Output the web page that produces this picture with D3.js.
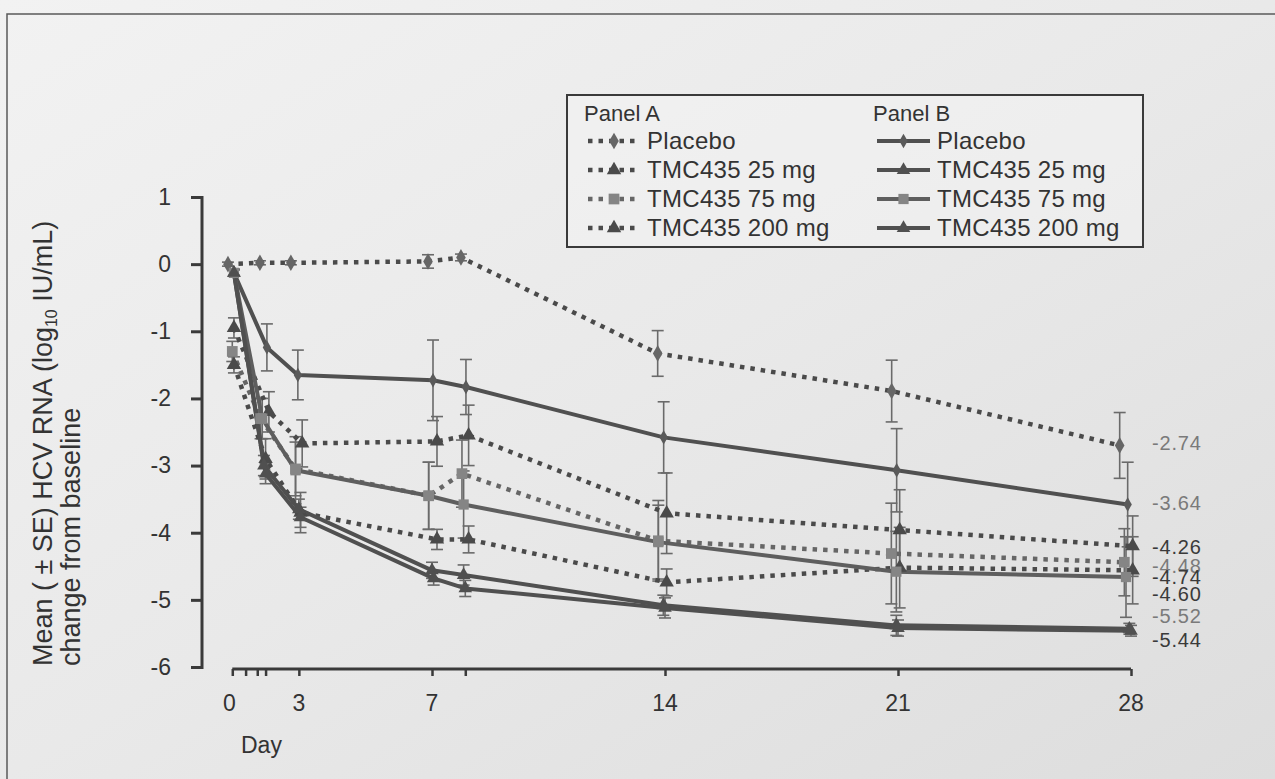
<!DOCTYPE html>
<html><head><meta charset="utf-8">
<script src="https://cdn.jsdelivr.net/npm/d3@7"></script>
<style>html,body{margin:0;padding:0;background:#e8e8e8;}svg{display:block;font-family:"Liberation Sans",Arial,sans-serif;}</style>
</head><body>
<svg id="c" width="1275" height="779"></svg>
<script>
// ---- data (days, mean change, SE) ----
const seriesNames = ["Placebo","TMC435 25 mg","TMC435 75 mg","TMC435 200 mg"];
const placeboA_x = [0.87, 1.83, 2.76, 6.88, 7.87, 13.78, 20.81, 27.66];
const placeboA_y = [0, 0.02, 0.02, 0.04, 0.1, -1.33, -1.89, -2.7];
const placeboA_se = [0.03, 0.03, 0.03, 0.1, 0.05, 0.34, 0.46, 0.49];
const tmc25A_x = [1.05, 2.1, 3.1, 7.15, 8.1, 14.05, 21.05, 28.05];
const tmc25A_y = [-0.95, -2.2, -2.67, -2.64, -2.55, -3.71, -3.96, -4.2];
const tmc25A_se = [0.15, 0.3, 0.35, 0.37, 0.45, 0.6, 0.6, 0.45];
const tmc75A_x = [1.0, 1.85, 2.9, 6.9, 7.9, 13.8, 20.8, 27.8];
const tmc75A_y = [-1.3, -2.3, -3.05, -3.45, -3.12, -4.12, -4.31, -4.44];
const tmc75A_se = [0.15, 0.3, 0.4, 0.5, 0.5, 0.6, 0.75, 0.5];
const tmc200A_x = [1.05, 2.0, 3.05, 7.15, 8.1, 14.05, 21.05, 28.05];
const tmc200A_y = [-1.5, -2.9, -3.7, -4.1, -4.1, -4.74, -4.52, -4.56];
const tmc200A_se = [0.12, 0.3, 0.3, 0.15, 0.2, 0.2, 0.6, 0.5];
const placeboB_x = [1.05, 2.04, 2.97, 7.03, 8.02, 13.96, 20.96, 27.9];
const placeboB_y = [-0.13, -1.24, -1.65, -1.73, -1.83, -2.58, -3.07, -3.58];
const placeboB_se = [0.05, 0.35, 0.37, 0.6, 0.41, 0.53, 0.62, 0.63];
const tmc25B_x = [1.05, 1.95, 3.0, 7.0, 7.95, 13.95, 20.95, 27.95];
const tmc25B_y = [-0.13, -3.0, -3.65, -4.56, -4.63, -5.08, -5.38, -5.43];
const tmc25B_se = [0.05, 0.15, 0.15, 0.12, 0.15, 0.15, 0.15, 0.08];
const tmc75B_x = [1.05, 1.9, 2.9, 6.9, 7.95, 13.8, 20.95, 27.85];
const tmc75B_y = [-0.13, -2.3, -3.07, -3.45, -3.58, -4.14, -4.58, -4.66];
const tmc75B_se = [0.05, 0.3, 0.5, 0.5, 0.5, 0.55, 0.6, 0.6];
const tmc200B_x = [1.05, 2.0, 3.05, 7.05, 8.0, 14.0, 21.0, 28.0];
const tmc200B_y = [-0.13, -3.12, -3.77, -4.68, -4.83, -5.12, -5.42, -5.46];
const tmc200B_se = [0.05, 0.15, 0.15, 0.1, 0.12, 0.15, 0.12, 0.08];

const yTicks = [1, 0, -1, -2, -3, -4, -5, -6];
const xTickDays = [1, 1.4, 1.75, 2, 3, 7, 8, 14, 21, 28];
const xLabelDays = [1, 3, 7, 14, 21, 28];
const xLabelText = ["0", "3", "7", "14", "21", "28"];
const endLabels = ["-2.74", "-3.64", "-4.26", "-4.48", "-4.74", "-4.60", "-5.52", "-5.44"];
const endLabelAt = [-2.67, -3.56, -4.22, -4.49, -4.66, -4.91, -5.24, -5.6];
const endLabelLight = [true, true, false, true, false, false, true, false];

// ---- chart ----
const svg = d3.select("#c");
const defs = svg.append("defs");
const grad = defs.append("linearGradient").attr("id","bg").attr("x1","0").attr("y1","0").attr("x2","1").attr("y2","1");
grad.append("stop").attr("offset","0").attr("stop-color","#f2f2f2");
grad.append("stop").attr("offset","0.5").attr("stop-color","#e9e9e9");
grad.append("stop").attr("offset","1").attr("stop-color","#dddddd");
svg.append("rect").attr("width",1275).attr("height",779).attr("fill","url(#bg)");
// frame
svg.append("path").attr("d","M7,779 V14 H1275").attr("fill","none").attr("stroke","#5a5a5a").attr("stroke-width",1.5);

const x = d3.scaleLinear().domain([0, 28]).range([199, 1131]);
const y = d3.scaleLinear().domain([-6, 1]).range([667, 197]);

const DARK = "#4a4a4a", MID = "#505050", LIGHT = "#858585";
const series = [
  {xs: placeboA_x, ys: placeboA_y, se: placeboA_se, dotted: true, sym: d3.symbolDiamond, color: DARK, mcolor: "#666", size: 80},
  {xs: tmc25A_x, ys: tmc25A_y, se: tmc25A_se, dotted: true, sym: d3.symbolTriangle, color: DARK, mcolor: DARK, size: 90},
  {xs: tmc75A_x, ys: tmc75A_y, se: tmc75A_se, dotted: true, sym: d3.symbolSquare, color: "#666", mcolor: LIGHT, size: 115},
  {xs: tmc200A_x, ys: tmc200A_y, se: tmc200A_se, dotted: true, sym: d3.symbolTriangle, color: DARK, mcolor: DARK, size: 90},
  {xs: placeboB_x, ys: placeboB_y, se: placeboB_se, dotted: false, sym: d3.symbolDiamond, color: MID, mcolor: "#5a5a5a", size: 60},
  {xs: tmc25B_x, ys: tmc25B_y, se: tmc25B_se, dotted: false, sym: d3.symbolTriangle, color: MID, mcolor: MID, size: 80},
  {xs: tmc75B_x, ys: tmc75B_y, se: tmc75B_se, dotted: false, sym: d3.symbolSquare, color: "#5e5e5e", mcolor: LIGHT, size: 105},
  {xs: tmc200B_x, ys: tmc200B_y, se: tmc200B_se, dotted: false, sym: d3.symbolTriangle, color: MID, mcolor: MID, size: 80}
];

// axes
const yAxis = d3.axisLeft(y).tickValues(yTicks).tickSize(11).tickPadding(20).tickFormat(d => String(d));
const gy = svg.append("g").attr("transform","translate(202,0)").call(yAxis);
gy.select(".domain").attr("stroke","#3a3a3a").attr("stroke-width",3).attr("d","M-11,197.5H0V667.5H-11");
gy.selectAll(".tick line").attr("stroke","#3a3a3a").attr("stroke-width",3);
gy.selectAll(".tick text").attr("font-size",23).attr("fill","#333").attr("font-family","Liberation Sans, Arial, sans-serif");

const xAxis = d3.axisBottom(x).tickValues(xTickDays).tickSize(7).tickFormat("");
const gx = svg.append("g").attr("transform","translate(0,669)").call(xAxis);
gx.select(".domain").attr("stroke","#3a3a3a").attr("stroke-width",3).attr("d",`M${x(1)},0H${x(28)}`);
gx.selectAll(".tick line").attr("stroke","#3a3a3a").attr("stroke-width",2.5);
svg.append("g").selectAll("text").data(xLabelDays).join("text")
  .attr("x", d => x(d) - (d === 1 ? 3 : 0)).attr("y", 711)
  .attr("text-anchor","middle").attr("font-size",23).attr("fill","#333")
  .text((d,i) => xLabelText[i]);
svg.append("text").attr("x",241).attr("y",753).attr("font-size",23).attr("fill","#333").text("Day");

// y label
const yl = svg.append("text").attr("transform","translate(52,666) rotate(-90)").attr("font-size",27).attr("fill","#333");
yl.append("tspan").text("Mean ( \u00B1 SE) HCV RNA (log");
yl.append("tspan").attr("font-size",16).attr("dy",5).text("10");
yl.append("tspan").attr("dy",-5).text(" IU/mL)");
svg.append("text").attr("transform","translate(80,666) rotate(-90)").attr("font-size",27).attr("fill","#333").text("change from baseline");

// error bars
const eb = svg.append("g");
series.forEach(s => {
  s.xs.forEach((dx, i) => {
    const cx = x(dx), y1 = y(s.ys[i] + s.se[i]), y2 = y(s.ys[i] - s.se[i]);
    if (Math.abs(y2 - y1) < 4) return;
    eb.append("line").attr("x1",cx).attr("x2",cx).attr("y1",y1).attr("y2",y2).attr("stroke","#6a6a6a").attr("stroke-width",1.6);
    [y1,y2].forEach(yy => eb.append("line").attr("x1",cx-6).attr("x2",cx+6).attr("y1",yy).attr("y2",yy).attr("stroke","#6a6a6a").attr("stroke-width",1.6));
  });
});

// lines
const line = d3.line().x(d => x(d[0])).y(d => y(d[1]));
series.forEach(s => {
  const pts = s.xs.map((d,i) => [d, s.ys[i]]);
  svg.append("path").attr("d", line(pts)).attr("fill","none").attr("stroke", s.color)
    .attr("stroke-width", s.dotted ? 4.5 : 4)
    .attr("stroke-dasharray", s.dotted ? "4.5,6" : null)
    .attr("stroke-linejoin","round");
});
// markers
series.forEach(s => {
  svg.append("g").selectAll("path").data(s.xs.map((d,i)=>[d,s.ys[i]])).join("path")
    .attr("transform", d => `translate(${x(d[0])},${y(d[1])})`)
    .attr("d", d3.symbol().type(s.sym).size(s.size)).attr("fill", s.mcolor);
});

// end labels
svg.append("g").selectAll("text").data(endLabels).join("text")
  .attr("x",1152).attr("y",(d,i) => y(endLabelAt[i])).attr("dy","0.35em")
  .attr("font-size",20).attr("letter-spacing",0.8)
  .attr("fill",(d,i) => endLabelLight[i] ? "#7a7a7a" : "#3a3a3a").text(d => d);

// legend
const lg = svg.append("g");
lg.append("rect").attr("x",567).attr("y",95).attr("width",576).attr("height",152).attr("fill","#f4f4f4").attr("fill-opacity",0.5).attr("stroke","#3a3a3a").attr("stroke-width",2);
lg.append("text").attr("x",584).attr("y",121).attr("font-size",22).attr("fill","#333").text("Panel A");
lg.append("text").attr("x",873).attr("y",121).attr("font-size",22).attr("fill","#333").text("Panel B");
const rowY = [149, 178, 207, 236];
series.forEach((s, i) => {
  const col = i < 4 ? 0 : 1, r = i % 4;
  const x0 = col === 0 ? 588 : 877, x1 = col === 0 ? 640 : 930;
  const yy = rowY[r] - 8;
  lg.append("line").attr("x1",x0).attr("x2",x1).attr("y1",yy).attr("y2",yy).attr("stroke",s.color)
    .attr("stroke-width", s.dotted ? 4.5 : 4).attr("stroke-dasharray", s.dotted ? "4.5,6" : null);
  lg.append("path").attr("transform",`translate(${(x0+x1)/2},${yy})`).attr("d", d3.symbol().type(s.sym).size(s.size)).attr("fill",s.mcolor);
  lg.append("text").attr("x", x1 + 7).attr("y", rowY[r]).attr("font-size",24).attr("letter-spacing",0.3).attr("fill","#333").text(seriesNames[r]);
});
</script>
</body></html>
